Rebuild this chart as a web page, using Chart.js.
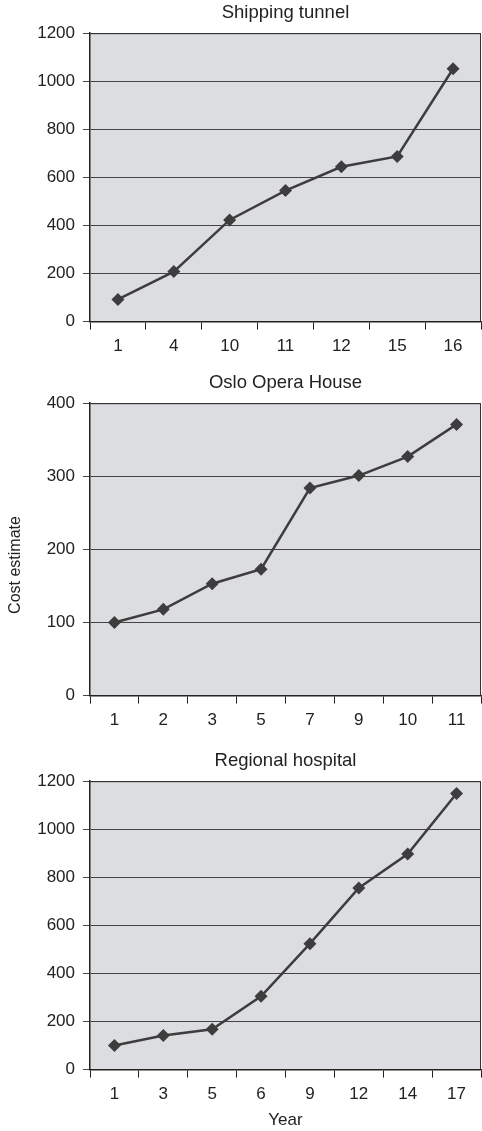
<!DOCTYPE html>
<html lang="en">
<head>
<meta charset="UTF-8">
<title>Cost estimates</title>
<script src="https://cdn.jsdelivr.net/npm/chart.js"></script>
<style>
  body { margin: 0; background: #fff; font-family: "Liberation Sans", Arial, sans-serif; overflow: hidden; }
  .box { position: absolute; left: 0; width: 482px; }
  #ylab {
    position: absolute; left: -85px; top: 555px; width: 200px; height: 20px;
    line-height: 20px; text-align: center; font-size: 16px; color: #222;
    transform: rotate(-90deg);
  }
</style>
</head>
<body>
  <div class="box" style="top:0; height:364px;"><canvas id="c1"></canvas></div>
  <div class="box" style="top:370px; height:368px;"><canvas id="c2"></canvas></div>
  <div class="box" style="top:748px; height:383px;"><canvas id="c3"></canvas></div>
  <div id="ylab">Cost estimate</div>

<script>
const tunnelYears = ['1', '4', '10', '11', '12', '15', '16'];
const tunnelCost = [92, 208, 423, 545, 644, 687, 1052];

const operaYears = ['1', '2', '3', '5', '7', '9', '10', '11'];
const operaCost = [100, 118, 153, 173, 284, 301, 327, 371];

const hospitalYears = ['1', '3', '5', '6', '9', '12', '14', '17'];
const hospitalCost = [100, 142, 168, 305, 524, 756, 897, 1149];

const INK = '#222';
const FONT = 'Liberation Sans, Arial, sans-serif';

// grey plot background and thin frame round it
const plotFrame = {
  id: 'plotFrame',
  beforeDraw(chart) {
    const a = chart.chartArea, ctx = chart.ctx;
    ctx.save();
    ctx.fillStyle = '#dcdde0';
    ctx.fillRect(a.left, a.top, a.right - a.left, a.bottom - a.top);
    ctx.restore();
  },
  beforeDatasetsDraw(chart) {
    const a = chart.chartArea, ctx = chart.ctx;
    ctx.save();
    ctx.strokeStyle = '#333';
    ctx.lineWidth = 1;
    ctx.beginPath();
    ctx.moveTo(a.left, a.top + 0.5);
    ctx.lineTo(a.right - 0.5, a.top + 0.5);
    ctx.lineTo(a.right - 0.5, a.bottom);
    ctx.stroke();
    ctx.restore();
  }
};

function makeChart(id, title, years, cost, yMax, yStep, showYear) {
  new Chart(document.getElementById(id), {
    type: 'line',
    data: {
      labels: years,
      datasets: [{
        data: cost,
        xAxisID: 'x',
        yAxisID: 'y',
        borderColor: '#3d3d3d',
        borderWidth: 2.5,
        backgroundColor: '#3d3d3d',
        pointStyle: 'rectRot',
        pointRadius: 6.5,
        pointBorderWidth: 0,
        tension: 0
      }]
    },
    options: {
      responsive: true,
      maintainAspectRatio: false,
      animation: false,
      layout: { autoPadding: false, padding: { left: 0, right: 1, top: 0, bottom: 0 } },
      plugins: {
        legend: { display: false },
        tooltip: { enabled: false }
      },
      scales: {
        x: {
          offset: true,
          grid: { offset: true, drawOnChartArea: false, tickLength: 8, color: INK, lineWidth: 1 },
          border: { color: INK, width: 1.5 },
          ticks: { color: INK, padding: 7, font: { family: FONT, size: 17 } },
          title: {
            display: showYear,
            text: 'Year',
            color: INK,
            font: { family: FONT, size: 17, lineHeight: 1 },
            padding: { top: 0, bottom: 2 }
          },
          afterFit: s => { s.paddingLeft = 0; s.paddingRight = 0; }
        },
        // top axis only carries the panel title, centred over the plot
        head: {
          type: 'category',
          position: 'top',
          grid: { display: false, drawTicks: false },
          border: { display: false },
          ticks: { display: false },
          title: {
            display: true,
            text: title,
            color: INK,
            font: { family: FONT, size: 18.5 },
            padding: { top: 2, bottom: 9 }
          },
          afterFit: s => { s.paddingLeft = 0; s.paddingRight = 0; }
        },
        y: {
          min: 0,
          max: yMax,
          afterFit: s => { s.width = 90; },
          grid: { color: '#444', lineWidth: 1, tickLength: 7 },
          border: { color: INK, width: 1.5 },
          ticks: {
            stepSize: yStep, color: INK, padding: 8,
            font: { family: FONT, size: 17 },
            callback: v => String(v)
          }
        }
      }
    },
    plugins: [plotFrame]
  });
}

makeChart('c1', 'Shipping tunnel', tunnelYears, tunnelCost, 1200, 200, false);
makeChart('c2', 'Oslo Opera House', operaYears, operaCost, 400, 100, false);
makeChart('c3', 'Regional hospital', hospitalYears, hospitalCost, 1200, 200, true);
</script>
</body>
</html>
